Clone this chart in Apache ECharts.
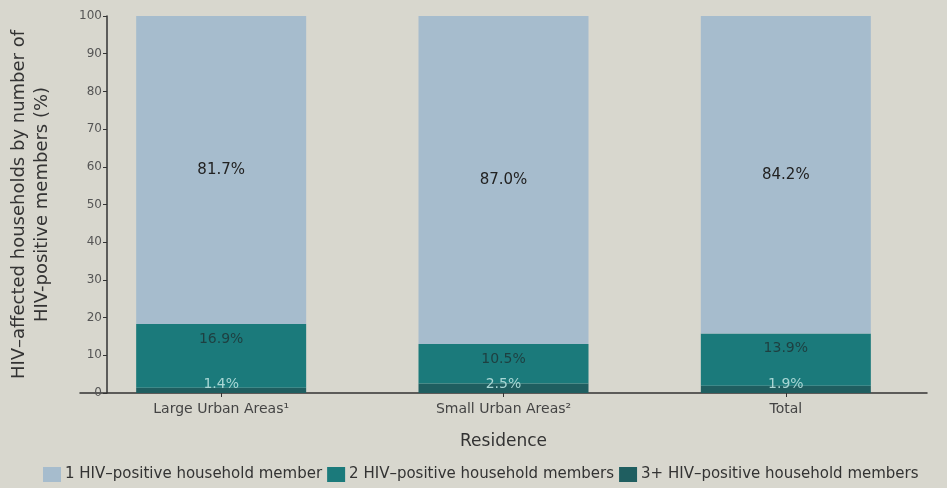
<!DOCTYPE html>
<html>
<head>
<meta charset="utf-8">
<script src="https://cdn.jsdelivr.net/npm/echarts@6/dist/echarts.min.js"></script>
<style>
  html, body { margin: 0; padding: 0; background: #d8d7ce; }
  #chart { width: 947px; height: 488px; }
</style>
</head>
<body>
<div id="chart"></div>
<script>
// data
const categories = ["Large Urban Areas\u00b9", "Small Urban Areas\u00b2", "Total"];
const seriesNames = [
  "1 HIV\u2013positive household member",
  "2 HIV\u2013positive household members",
  "3+ HIV\u2013positive household members"
];
const oneMember = [81.7, 87.0, 84.2];
const twoMembers = [16.9, 10.5, 13.9];
const threePlus = [1.4, 2.5, 1.9];
const yTicks = [0, 10, 20, 30, 40, 50, 60, 70, 80, 90, 100];

const chart = echarts.init(document.getElementById("chart"));
const font = "DejaVu Sans, Arial, sans-serif";
const pct = p => p.value.toFixed(1) + "%";

const option = {
  backgroundColor: "#d8d7ce",
  textStyle: { fontFamily: font },
  grid: { left: 80, right: 20, top: 16, bottom: 95, outerBoundsMode: "none" },
  legend: {
    bottom: 1,
    left: 38,
    width: 1000,
    itemWidth: 18,
    itemHeight: 15,
    itemGap: 5,
    icon: "rect",
    textStyle: { fontSize: 15, color: "#333", fontFamily: font, padding: [0, 0, 0, -1] },
    data: seriesNames
  },
  xAxis: {
    type: "category",
    data: categories,
    name: "Residence",
    nameLocation: "middle",
    nameGap: 40,
    nameTextStyle: { fontSize: 17, color: "#333" },
    axisLine: { lineStyle: { color: "#333", width: 1.5 } },
    axisTick: { show: true, alignWithLabel: true, length: 4, lineStyle: { color: "#333" } },
    axisLabel: { fontSize: 14, color: "#444", margin: 9 }
  },
  yAxis: {
    type: "value",
    min: yTicks[0],
    max: yTicks[yTicks.length - 1],
    interval: 10,
    offset: -27,
    name: "HIV\u2013affected households by number of\nHIV-positive members (%)",
    nameLocation: "middle",
    nameGap: 53,
    nameTextStyle: { fontSize: 18, color: "#333", lineHeight: 23 },
    axisLine: { show: true, lineStyle: { color: "#333", width: 1.5 } },
    axisTick: { show: true, length: 4, lineStyle: { color: "#333" } },
    axisLabel: { fontSize: 12, color: "#555", margin: 5 },
    splitLine: { show: false }
  },
  series: [
    {
      name: seriesNames[2],
      type: "bar",
      stack: "hh",
      barWidth: 170,
      data: threePlus,
      itemStyle: { color: "#1f5e60" },
      label: {
        show: true,
        position: "insideBottom",
        distance: 2,
        color: "#a9d6d4",
        fontSize: 14,
        formatter: pct
      }
    },
    {
      name: seriesNames[1],
      type: "bar",
      stack: "hh",
      data: twoMembers,
      itemStyle: { color: "#1b7a7b" },
      label: {
        show: true,
        position: "insideTop",
        distance: 8,
        color: "#1e3f40",
        fontSize: 14,
        formatter: pct
      }
    },
    {
      name: seriesNames[0],
      type: "bar",
      stack: "hh",
      data: oneMember,
      itemStyle: { color: "#a6bccd" },
      label: {
        show: true,
        position: "inside",
        color: "#222",
        fontSize: 15,
        formatter: pct
      }
    }
  ]
};

chart.setOption(option);
</script>
</body>
</html>
